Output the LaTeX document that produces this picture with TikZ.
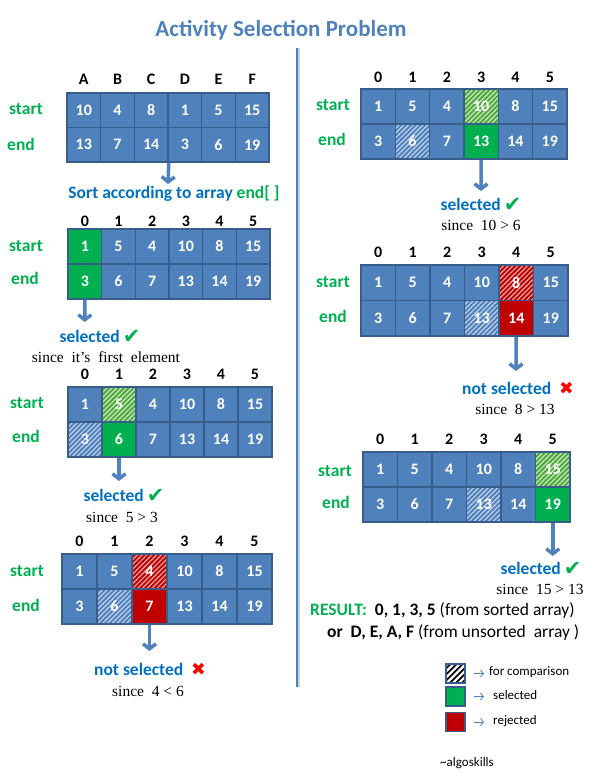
\documentclass[tikz,border=0pt]{standalone}
\usepackage{fontspec}
\setmainfont{Liberation Serif}
\newfontfamily\carl{Carlito}
\newfontfamily\dvs{DejaVu Sans}
\usetikzlibrary{arrows.meta,patterns.meta}
\definecolor{cellblue}{HTML}{4F81BD}
\definecolor{cellline}{HTML}{385D8A}
\definecolor{selgreen}{HTML}{00B050}
\definecolor{hgreen}{HTML}{4EAA3A}
\definecolor{rejred}{HTML}{C00000}
\definecolor{txtblue}{HTML}{0070C0}
\definecolor{titleblue}{HTML}{4F81BD}
\definecolor{xred}{HTML}{FF0000}
\tikzset{
  cell/.style={draw=cellline, line width=1.5pt, fill=cellblue, inner sep=0pt, text=white,
    font=\carl\bfseries\fontsize{16}{16}\selectfont},
  cN/.style={},
  cS/.style={fill=selgreen},
  cR/.style={fill=rejred},
  cHG/.style={preaction={fill=hgreen}, pattern={Lines[angle=45,distance=3.4pt,line width=1.2pt]}, pattern color=hgreen!30!white},
  cHB/.style={preaction={fill=cellblue}, pattern={Lines[angle=45,distance=3.4pt,line width=1.2pt]}, pattern color=cellblue!35!white},
  cHR/.style={preaction={fill=rejred}, pattern={Lines[angle=45,distance=3.4pt,line width=1.2pt]}, pattern color=rejred!35!white},
  colhead/.style={font=\carl\bfseries\fontsize{16}{16}\selectfont, text=black, inner sep=0pt},
  rowlab/.style={font=\carl\bfseries\fontsize{17.5}{17.5}\selectfont, text=selgreen, inner sep=0pt},
  bigarrow/.style={draw=cellblue, line width=3.5pt, -{Straight Barb[length=5pt,width=13pt]}},
  verdict/.style={font=\carl\bfseries\fontsize{17.5}{17.5}\selectfont, text=txtblue, inner sep=0pt},
  since/.style={font=\fontsize{15.5}{15.5}\selectfont, text=black, inner sep=0pt},
  res/.style={font=\carl\bfseries\fontsize{17.5}{17.5}\selectfont, text=black, inner sep=0pt},
  legbox/.style={draw=cellline, line width=1.5pt, minimum width=19pt, minimum height=19pt, inner sep=0pt},
  legtxt/.style={font=\carl\fontsize{13}{13}\selectfont, text=black, inner sep=0pt, anchor=west},
  legarrow/.style={draw=cellblue, line width=0.8pt, -{Straight Barb[length=3pt,width=7pt]}}
}
% #1 name, #2 L, #3 T, #4 w, #5 h, #6 headers, #7 start, #8 end, #9 header y
\newcommand{\actable}[9]{%
  \foreach \v/\st [count=\i from 0] in {#7} {
    \node[cell,\st,minimum width=#4pt,minimum height=#5pt] (#1s\i) at ({#2+(\i+0.5)*#4},{#3+0.5*#5}) {\v};
  }
  \foreach \v/\st [count=\i from 0] in {#8} {
    \node[cell,\st,minimum width=#4pt,minimum height=#5pt] (#1e\i) at ({#2+(\i+0.5)*#4},{#3+1.5*#5}) {\v};
  }
  \foreach \v [count=\i from 0] in {#6} {
    \node[colhead] (#1h\i) at ({#2+(\i+0.5)*#4},#9) {\v};
  }
}
\newcommand{\chk}{{\dvs\fontsize{21}{21}\selectfont\color{selgreen}\raisebox{-1pt}{\char"2714}}}
\newcommand{\crs}{{\dvs\color{xred}\char"2716}}
\begin{document}
\begin{tikzpicture}[x=1pt,y=-1pt]
\useasboundingbox[fill=white] (0,0) rectangle (604,774);

\node[font=\carl\bfseries\fontsize{23}{23}\selectfont, text=titleblue] (title) at (281,30) {Activity Selection Problem};

\coordinate (vtop) at (297,48);
\coordinate (vbot) at (297,687);
\draw[gray!35, line width=2pt] ([xshift=2pt]vtop) -- ([xshift=2pt]vbot);
\draw[titleblue, line width=1.6pt] (vtop) -- (vbot);

% ---------- table 1 ----------
\actable{t1}{67}{93}{33.67}{34.5}{A,B,C,D,E,F}
  {10/cN,4/cN,8/cN,1/cN,5/cN,15/cN}{13/cN,7/cN,14/cN,3/cN,6/cN,19/cN}{79.5}
\node[rowlab] (t1ls) at (26,109) {start};
\node[rowlab] (t1le) at (21,144) {end};
\coordinate (a1) at (168,184);
\draw[bigarrow] (t1e2.south east) -- (a1);
\node[verdict] (sorttxt) at (174,194) {Sort according to array {\color{selgreen}end[ ]}};

% ---------- table 2 ----------
\actable{t2}{68}{229}{33.67}{35}{0,1,2,3,4,5}
  {1/cS,5/cN,4/cN,10/cN,8/cN,15/cN}{3/cS,6/cN,7/cN,13/cN,14/cN,19/cN}{221.5}
\node[rowlab] (t2ls) at (26,246) {start};
\node[rowlab] (t2le) at (25,278) {end};
\coordinate (a2) at (84.8,322);
\draw[bigarrow] (t2e0.south) -- (a2);
\node[verdict] (v2) at (100,337) {selected\,\chk};
\node[since] (s2) at (106,357) {since\ \ it’s\ \ first\ \ element};

% ---------- table 3 ----------
\actable{t3}{68}{387}{34}{35}{0,1,2,3,4,5}
  {1/cN,5/cHG,4/cN,10/cN,8/cN,15/cN}{3/cHB,6/cS,7/cN,13/cN,14/cN,19/cN}{374.5}
\node[rowlab] (t3ls) at (27,403) {start};
\node[rowlab] (t3le) at (26,436) {end};
\coordinate (a3) at (119,481);
\draw[bigarrow] (t3e1.south) -- (a3);
\node[verdict] (v3) at (124,496) {selected\,\chk};
\node[since] (s3) at (122,517) {since\ \ 5 > 3};

% ---------- table 4 ----------
\actable{t4}{62}{554}{35}{35}{0,1,2,3,4,5}
  {1/cN,5/cN,4/cHR,10/cN,8/cN,15/cN}{3/cN,6/cHB,7/cR,13/cN,14/cN,19/cN}{541}
\node[rowlab] (t4ls) at (27,571) {start};
\node[rowlab] (t4le) at (26,605) {end};
\coordinate (a4) at (149.5,651);
\draw[bigarrow] (t4e2.south) -- (a4);
\node[verdict] (v4) at (150,669) {not selected\ \ \crs};
\node[since] (s4) at (148,691) {since\ \ 4 < 6};

% ---------- table 5 ----------
\actable{t5}{361}{89}{34.33}{35}{0,1,2,3,4,5}
  {1/cN,5/cN,4/cN,10/cHG,8/cN,15/cN}{3/cN,6/cHB,7/cN,13/cS,14/cN,19/cN}{77.5}
\node[rowlab] (t5ls) at (333,105) {start};
\node[rowlab] (t5le) at (332,139) {end};
\coordinate (a5) at (481,191);
\draw[bigarrow] (t5e3.south) -- (a5);
\node[verdict] (v5) at (481,205) {selected\,\chk};
\node[since] (s5) at (481,225) {since\ \ 10 > 6};

% ---------- table 6 ----------
\actable{t6}{361}{265}{34.5}{35.5}{0,1,2,3,4,5}
  {1/cN,5/cN,4/cN,10/cN,8/cHR,15/cN}{3/cN,6/cN,7/cN,13/cHB,14/cR,19/cN}{252.5}
\node[rowlab] (t6ls) at (333,282) {start};
\node[rowlab] (t6le) at (333,316) {end};
\coordinate (a6) at (516,371);
\draw[bigarrow] (t6e4.south) -- (a6);
\node[verdict] (v6) at (518,388) {not selected\ \ \crs};
\node[since] (s6) at (515,409) {since\ \ 8 > 13};

% ---------- table 7 ----------
\actable{t7}{363}{452}{34.5}{35}{0,1,2,3,4,5}
  {1/cN,5/cN,4/cN,10/cN,8/cN,15/cHG}{3/cN,6/cN,7/cN,13/cHB,14/cN,19/cS}{439.5}
\node[rowlab] (t7ls) at (335,471) {start};
\node[rowlab] (t7le) at (336,502) {end};
\coordinate (a7) at (552.75,556);
\draw[bigarrow] (t7e5.south) -- (a7);
\node[verdict] (v7) at (541,569) {selected\,\chk};
\node[since] (s7) at (540,589) {since\ \ 15 > 13};

% ---------- result ----------
\node[res, anchor=west] (res1) at (310,611) {{\color{selgreen}RESULT:}\ \ 0, 1, 3, 5 {\mdseries (from sorted array)}};
\node[res, anchor=west] (res2) at (327,633) {or\ \ D, E, A, F {\mdseries (from unsorted\ \ array )}};

% ---------- legend ----------
\node[legbox, fill=white, pattern={Lines[angle=45,distance=4.3pt,line width=1.8pt]}, pattern color=black, preaction={fill=white}] (lg1) at (455.5,673.5) {};
\node[legbox, fill=selgreen] (lg2) at (455.5,696.5) {};
\node[legbox, fill=rejred] (lg3) at (455.5,722) {};
\coordinate (la1) at (484,673.5);
\coordinate (la2) at (484,696.5);
\coordinate (la3) at (484,722);
\draw[legarrow] ([xshift=8pt]lg1.east) -- (la1);
\draw[legarrow] ([xshift=8pt]lg2.east) -- (la2);
\draw[legarrow] ([xshift=8pt]lg3.east) -- (la3);
\node[legtxt] (lt1) at (489,672) {for comparison};
\node[legtxt] (lt2) at (493,695) {selected};
\node[legtxt] (lt3) at (493,721) {rejected};
\node[legtxt] (sig) at (440,763) {\char"7E algoskills};
\end{tikzpicture}
\end{document}
